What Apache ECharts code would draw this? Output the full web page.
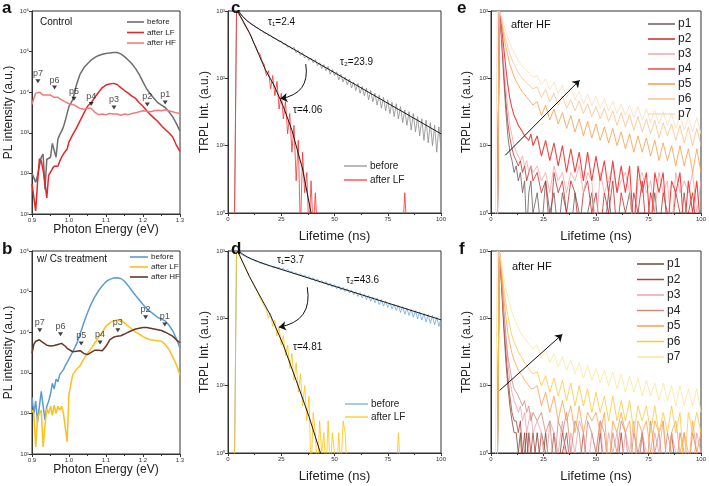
<!DOCTYPE html>
<html><head><meta charset="utf-8">
<script src="https://cdn.jsdelivr.net/npm/echarts@6/dist/echarts.min.js"></script>
<style>html,body{margin:0;padding:0;background:#fff}#c{width:709px;height:486px}</style>
</head><body><div id="c"></div>
<script>
// ---------- DATA ----------
const energy = [0.9,0.905,0.91,0.915,0.92,0.925,0.93,0.935,0.94,0.945,0.95,0.955,0.96,0.965,0.97,0.975,0.98,0.985,0.99,0.995,1.0,
  1.01,1.02,1.03,1.04,1.05,1.06,1.07,1.08,1.09,1.1,1.11,1.12,1.13,1.14,1.15,1.16,1.17,1.18,1.19,1.2,1.21,1.22,1.23,1.24,1.25,1.26,1.27,1.28,1.29,1.3];
const aBefore = [100,110,60,90,150,250,300,40,220,220,250,550,600,250,700,900,1100,1400,2000,3000,4500,
  6500,15000,28000,40000,50000,62000,72000,80000,86000,90000,93000,95000,95000,88000,75000,62000,50000,38000,27000,18000,12000,9000,7000,5500,4800,4200,3300,2500,1700,1100];
const aLF = [55,60,12,60,230,200,120,60,25,90,100,130,150,160,150,200,250,300,350,400,600,
  900,1300,2000,3000,4500,5500,7500,10000,13000,15000,16000,16500,15500,13000,11000,9500,8000,7000,5500,4500,3500,2800,2300,1900,1500,1200,1000,800,500,350];
const aHF = [5000,7000,9500,10500,10000,9000,8500,8000,8500,8000,8500,8000,7500,8000,7500,7000,6500,6000,5800,5500,5200,
  5000,4500,4000,3800,4000,4000,3200,2800,2900,2800,3000,2900,2900,2700,2900,2800,3000,3100,3300,3500,3400,3300,3500,3600,3500,3700,3500,3300,3100,3000];
const bBefore = [250,100,200,60,150,350,330,70,150,200,300,550,400,700,600,900,1000,1200,1500,1800,2200,
  3300,5000,9000,17000,30000,50000,75000,105000,140000,175000,200000,215000,220000,210000,180000,140000,105000,80000,62000,48000,38000,32000,27000,23000,21000,19000,15000,11000,7000,4000];
const bLF = [120,100,15,80,100,120,15,50,130,100,150,90,160,100,150,120,150,100,100,20,300,
  900,1200,1500,2200,3000,4000,5500,7500,10000,14000,17000,19000,20000,20000,17000,14000,12000,10000,9000,7800,7000,6500,6300,6200,6000,5000,3800,2500,1600,900];
const bHF = [3000,5000,6000,6500,6500,6000,5500,5000,4800,4500,4600,5000,4700,4500,5000,5500,5300,5000,4500,4000,3600,
  3300,3400,3500,3000,2800,3200,3600,3600,3500,4500,6500,7500,8000,8200,9000,10000,11000,12000,12500,13000,13000,12500,12000,11500,11000,10000,9000,8000,6500,5500];
const peakNames = ['p1','p2','p3','p4','p5','p6','p7'];
const aPeakE = [1.26,1.2117,1.1216,1.06,1.0135,0.961,0.916];
const aPeakI = [5600,5000,4200,5100,6900,13000,18600];
const bPeakE = [1.259,1.207,1.132,1.084,1.033,0.977,0.921];
const bPeakI = [15500,23500,11200,5600,5300,8900,11200];

// TRPL c/d: time 3..100 ns, 1 ns step
const tCD = [3,4,5,6,7,8,9,10,11,12,13,14,15,16,17,18,19,20,21,22,23,24,25,26,27,28,29,30,31,32,33,34,35,36,37,38,39,40,41,42,43,44,45,46,47,48,49,50,
  51,52,53,54,55,56,57,58,59,60,61,62,63,64,65,66,67,68,69,70,71,72,73,74,75,76,77,78,79,80,81,82,83,84,85,86,87,88,89,90,91,92,93,94,95,96,97,98,99,100];
const cBefore = [0.5,1000,950,880,830,760,700,690,630,620,570,560,520,510,470,470,430,440,400,390,380,350,360,320,330,290,300,270,290,240,260,220,240,200,215,185,200,170,190,155,170,140,160,130,150,115,135,110,125,95,115,88,105,80,98,72,88,66,84,60,76,55,72,48,66,45,60,40,56,36,52,33,48,30,44,27,42,25,38,22,34,20,32,17,30,16,27,14,25,12,24,11,22,10,20,8,19,9];
const cLF = [0.5,1000,900,800,700,600,540,470,420,340,300,250,230,180,160,110,130,70,110,55,90,35,60,25,45,15,30,8,20,3,12,0.5,8,2,4,0.5,3,0.5,2,
  0.5,0.5,0.5,0.5,0.5,0.5,0.5,0.5,0.5,0.5,0.5,0.5,0.5,0.5,0.5,0.5,0.5,0.5,0.5,0.5,0.5,0.5,0.5,0.5,0.5,0.5,0.5,0.5,0.5,0.5,0.5,0.5,0.5,0.5,0.5,0.5,0.5,0.5,0.5,0.5,0.5,
  2,0.5,0.5,0.5,0.5,0.5,0.5,0.5,0.5,0.5,0.5,0.5,0.5,0.5,0.5,0.5,0.5,0.5];
const dBefore = [0.5,1000,960,900,870,830,800,780,750,740,700,700,660,670,630,640,600,610,
  570,590,555,575,530,555,505,530,485,500,455,480,440,460,420,440,400,420,380,400,355,385,340,365,325,350,305,335,290,320,275,305,262,290,250,275,238,262,225,250,212,240,200,228,190,218,180,208,170,200,160,190,152,180,145,170,138,162,130,156,122,150,115,142,110,135,104,130,98,125,94,118,88,114,84,110,80,104,76,100];
const dLF = [0.5,1000,920,780,680,580,500,430,370,320,270,240,200,180,150,135,100,120,75,95,55,75,40,55,28,40,18,30,12,22,8,15,5,10,3,7,0.5,4,2,0.5,3,1,2,0.5,3,0.5,2,1,0.5,2,0.5,3,2,0.5,
  0.5,0.5,0.5,0.5,0.5,0.5,0.5,0.5,0.5,0.5,0.5,0.5,0.5,0.5,0.5,0.5,0.5,0.5,0.5,0.5,0.5,0.5,0.5,2,
  0.5,0.5,0.5,0.5,0.5,0.5,0.5,0.5,0.5,0.5,0.5,0.5,0.5,0.5,0.5,0.5,0.5,0.5,0.5,0.5];
const fitCBeforeT = [5,6,7,8,10,12,15,20,100];
const fitCBeforeI = [1000,899,823,763,674,609,529,426,15];
const fitCLFT = [4.5,10,17.6,21.5,26,30,35,39];
const fitCLFI = [1000,480,133,80,38,17,4.5,1];
const fitDBeforeT = [5,7,9,11,15,20,100];
const fitDBeforeI = [1000,895,819,763,678,598,95];
const fitDLFT = [4.5,10,20,26,32,38,43.4];
const fitDLFI = [1000,420,110,40,12,3.5,1];

// TRPL e/f: time grid
const tEF = [2,3,4,5,6,7,8,9,10,11,12,13,14,15,16,17,18,19,20,
  22,24,26,28,30,32,34,36,38,40,42,44,46,48,50,52,54,56,58,60,62,64,66,68,70,72,74,76,78,80,82,84,86,88,90,92,94,96,98,100];
const eP1 = [0.5,0.5,1000,380,110,35,14,8,6,4,5,3,4,2,3,0.5,2,3,1, 2,0.5,3,1,2,0.5,2,1,0.5,2, 1,0.5,1,2,0.5,1,0.5,2,0.5,1, 0.5,1,2,0.5,1,0.5,1,0.5,2,0.5, 1,0.5,0.5,1,0.5,2,0.5,1,0.5,1];
const eP2 = [0.5,0.5,1000,420,140,50,22,13,9,7,6,5,6,4,5,3,4,5,3, 4,2,3,0.5,4,2,3,1,3,2, 0.5,2,3,1,2,0.5,2,1,3,0.5, 2,1,0.5,2,1,3,0.5,2,1,0.5, 2,1,0.5,2,1,0.5,1,2,0.5,1];
const eP3 = [0.5,0.5,1000,480,180,75,35,20,14,10,8,7,6,7,5,6,4,5,4, 5,3,4,2,5,3,4,2,4,3, 5,2,4,3,0.5,4,2,3,5,2, 3,4,2,0.5,3,4,2,3,1,4, 2,3,0.5,4,2,3,2,4,1,3];
const eP4 = [0.5,0.5,1000,600,300,150,80,50,36,28,24,20,18,16,14,13,12,15,10, 14,7,12,6,11,5,10,4,9,4, 8,3,8,3,7,3,6,2,6,2, 5,2,5,0.5,5,2,4,0.5,4,2, 4,0.5,3,2,4,0.5,3,1,3,0.5];
const eP5 = [0.5,0.5,1000,700,430,300,220,160,130,105,90,80,70,62,58,52,48,44,40, 45,28,40,24,35,21,31,18,28,16, 25,14,23,13,21,12,19,11,18,10, 16,9,15,8,14,8,13,7,12,6, 11,6,10,5,10,5,9,4,9,4];
const eP6 = [0.5,0.5,1000,780,520,380,290,230,190,160,140,120,110,100,92,85,80,75,70, 75,52,68,45,60,40,55,36,48,33, 46,30,42,27,38,25,36,23,33,20, 31,19,29,17,27,16,25,15,24,13, 22,14,21,12,20,11,19,10,18,10];
const eP7 = [0.5,1000,950,820,640,500,400,330,280,240,210,185,165,150,140,130,120,112,105, 110,80,98,68,88,60,80,52,72,48, 64,42,58,39,54,36,50,33,46,30, 42,28,40,26,38,24,36,22,34,21, 32,20,30,18,29,17,27,16,26,15];
const fP1 = [0.5,0.5,1000,300,80,25,10,5,3,2,2,1,2,0.5,1,2,0.5,1,0.5, 2,0.5,2,0.5,1,0.5,2,1,0.5,0.5, 1,0.5,0.5,1,0.5,0.5,0.5,1,0.5,0.5, 1,0.5,0.5,0.5,1,0.5,0.5,1,0.5,0.5, 0.5,1,0.5,0.5,1,0.5,0.5,0.5,1,0.5];
const fP2 = [0.5,0.5,1000,350,100,35,14,7,4,3,3,2,3,1,2,0.5,2,1,2, 0.5,2,1,0.5,2,0.5,1,2,0.5,1, 0.5,2,0.5,1,0.5,2,0.5,1,0.5,0.5, 2,0.5,1,0.5,0.5,2,0.5,1,0.5,1, 0.5,0.5,2,0.5,1,0.5,0.5,1,0.5,0.5];
const fP3 = [0.5,0.5,1000,400,130,50,22,12,8,6,5,4,5,3,4,2,3,4,2, 3,2,0.5,3,2,1,3,0.5,2,1, 3,2,0.5,2,1,3,0.5,2,1,2, 0.5,2,1,3,0.5,2,1,0.5,2,1, 3,0.5,2,1,0.5,2,1,0.5,2,1];
const fP4 = [0.5,0.5,1000,420,150,60,28,18,12,9,8,7,6,5,6,4,5,3,4, 3,4,2,3,0.5,3,2,4,1,3, 2,0.5,3,2,1,3,2,0.5,2,1, 3,2,0.5,2,1,2,0.5,3,1,2, 0.5,2,1,0.5,2,1,0.5,2,1,0.5];
const fP5 = [0.5,0.5,1000,500,220,110,60,42,30,24,20,17,15,14,12,11,10,9,9, 10,5,8,4,7,3,6,3,5,2, 5,2,4,3,4,2,4,0.5,3,2, 4,2,3,0.5,3,2,3,1,3,2, 3,0.5,2,3,1,2,0.5,3,1,2];
const fP6 = [0.5,0.5,1000,560,290,170,110,75,55,45,38,32,28,25,22,20,18,16,15, 16,10,14,8,13,7,12,6,11,5, 10,5,9,4,8,4,7,3,7,3, 6,3,6,2,5,3,5,2,5,2, 4,2,5,2,4,0.5,4,2,4,2];
const fP7 = [0.5,1000,900,680,420,290,210,160,125,100,85,72,62,55,50,45,42,38,35, 40,26,34,22,30,19,27,17,24,15, 22,13,20,12,18,11,17,10,16,9, 15,8,14,8,13,7,12,7,11,6, 11,6,10,5,10,5,9,5,9,4];

// ---------- CHART ----------
const FONT = 'Liberation Sans, Arial, Helvetica, sans-serif';
const SUP = {'0':'\u2070','1':'\u00b9','2':'\u00b2','3':'\u00b3','4':'\u2074','5':'\u2075','6':'\u2076'};
const logFmt = v => '10' + SUP[String(Math.round(Math.log10(v)))];
const pairs = (xs, ys) => xs.map((x, i) => [x, ys[i]]);

const grids = [
  {left:32, top:11, width:148, height:203},
  {left:32, top:251, width:148, height:203},
  {left:228, top:11, width:213, height:202},
  {left:228, top:251, width:213, height:202},
  {left:491, top:11, width:211, height:202},
  {left:491, top:251, width:211, height:202}
].map(g => Object.assign(g, {show:true, borderColor:'#333', borderWidth:1, backgroundColor:'transparent', containLabel:false}));

function xAx(gi, min, max, interval, name, gap, size, fmt) {
  return {type:'value', gridIndex:gi, min, max, interval, name, nameLocation:'middle', nameGap:gap,
    nameTextStyle:{fontSize:size, color:'#222', fontFamily:FONT},
    axisLine:{show:true, onZero:false, lineStyle:{color:'#333', width:1}},
    axisTick:{show:true, length:3, lineStyle:{color:'#333'}},
    minorTick:{show:true, splitNumber:2, length:2, lineStyle:{color:'#333'}},
    axisLabel:{fontSize:6, color:'#333', margin:3, fontFamily:FONT, formatter:fmt},
    splitLine:{show:false}};
}
function yAx(gi, min, max, name, gap) {
  return {type:'log', logBase:10, gridIndex:gi, min, max, name, nameLocation:'middle', nameGap:gap,
    nameTextStyle:{fontSize:12, color:'#222', fontFamily:FONT},
    axisLine:{show:true, onZero:false, lineStyle:{color:'#333', width:1}},
    axisTick:{show:true, length:3, lineStyle:{color:'#333'}},
    axisLabel:{fontSize:6, color:'#333', margin:3, fontFamily:FONT, formatter:logFmt},
    splitLine:{show:false}};
}
const e1 = v => v.toFixed(1);
const xAxes = [
  xAx(0, 0.9, 1.3, 0.1, 'Photon Energy (eV)', 7, 12, e1),
  xAx(1, 0.9, 1.3, 0.1, 'Photon Energy (eV)', 7, 12, e1),
  xAx(2, 0, 100, 25, 'Lifetime (ns)', 17, 13),
  xAx(3, 0, 100, 25, 'Lifetime (ns)', 17, 13),
  xAx(4, 0, 100, 25, 'Lifetime (ns)', 17, 13),
  xAx(5, 0, 100, 25, 'Lifetime (ns)', 17, 13)
];
const yAxes = [
  yAx(0, 10, 1e6, 'PL intensity (a.u.)', 17),
  yAx(1, 10, 1e6, 'PL intensity (a.u.)', 17),
  yAx(2, 1, 1000, 'TRPL Int. (a.u.)', 17),
  yAx(3, 1, 1000, 'TRPL Int. (a.u.)', 17),
  yAx(4, 1, 1000, 'TRPL Int. (a.u.)', 18),
  yAx(5, 1, 1000, 'TRPL Int. (a.u.)', 18)
];

function line(name, gi, xs, ys, color, width) {
  return {type:'line', name, xAxisIndex:gi, yAxisIndex:gi, data:pairs(xs, ys),
    symbol:'none', showSymbol:false, clip:true, lineStyle:{color, width}, itemStyle:{color},
    emphasis:{disabled:true}, animation:false};
}
function peaks(name, gi, xs, ys) {
  return {type:'scatter', name, xAxisIndex:gi, yAxisIndex:gi,
    data: xs.map((x, i) => ({name:peakNames[i], value:[x, ys[i]]})),
    symbol:'triangle', symbolRotate:180, symbolSize:[5,4], itemStyle:{color:'#111'},
    label:{show:true, position:'top', distance:1, formatter:'{b}', fontSize:9, color:'#222', fontFamily:FONT},
    emphasis:{disabled:true}, animation:false, z:5};
}
function arrow(gi, from, to, curv) {
  return {type:'lines', coordinateSystem:'cartesian2d', xAxisIndex:gi, yAxisIndex:gi, silent:true,
    symbol:['none','arrow'], symbolSize:7, animation:false, z:6,
    lineStyle:{color:'#111', width:1, curveness:curv, opacity:1},
    data:[{coords:[from, to]}]};
}

const eCols = ['#6a5a5a','#c42a2a','#f6a3a3','#f04444','#fb9a45','#fcc088','#fddcbc'];
const fCols = ['#7a4632','#b04038','#f0a0aa','#cf8a78','#fca04c','#fcc83c','#fde49a'];
const eData = [eP1,eP2,eP3,eP4,eP5,eP6,eP7];
const fData = [fP1,fP2,fP3,fP4,fP5,fP6,fP7];

const series = [
  line('a#before', 0, energy, aBefore, '#6e6e6e', 1.5),
  line('a#after LF', 0, energy, aLF, '#e8262a', 1.5),
  line('a#after HF', 0, energy, aHF, '#f47a7a', 1.5),
  peaks('aPk', 0, aPeakE, aPeakI),
  line('b#before', 1, energy, bBefore, '#5b9bd5', 1.5),
  line('b#after LF', 1, energy, bLF, '#ffbf1a', 1.5),
  line('b#after HF', 1, energy, bHF, '#6b3526', 1.5),
  peaks('bPk', 1, bPeakE, bPeakI),
  line('c#before', 2, tCD, cBefore, '#8c8c8c', 0.8),
  line('c#after LF', 2, tCD, cLF, '#ff2d2d', 0.8),
  line('cfit1', 2, fitCBeforeT, fitCBeforeI, '#1a1a1a', 1),
  line('cfit2', 2, fitCLFT, fitCLFI, '#1a1a1a', 1),
  arrow(2, [36.5,163], [24.6,50], 0.5),
  line('d#before', 3, tCD, dBefore, '#6fa8dc', 0.8),
  line('d#after LF', 3, tCD, dLF, '#ffc20e', 0.8),
  line('dfit1', 3, fitDBeforeT, fitDBeforeI, '#1a1a1a', 1),
  line('dfit2', 3, fitDLFT, fitDLFI, '#1a1a1a', 1),
  arrow(3, [37.2,290], [23.9,74], 0.5)
];
peakNames.forEach((p, i) => series.push(line('e#' + p, 4, tEF, eData[i], eCols[i], i === 3 ? 1.1 : 0.8)));
peakNames.forEach((p, i) => series.push(line('f#' + p, 5, tEF, fData[i], fCols[i], 0.8)));
series.push(arrow(4, [6.8,7.2], [42.2,94], 0));
series.push(arrow(5, [4.1,8.5], [34,58], 0));

function leg(names, left, top, iw, ih, fs, gap) {
  return {data:names.map(n => ({name:n, icon:'rect'})), left, top, orient:'vertical', itemWidth:iw, itemHeight:ih, itemGap:gap, padding:0,
    selectedMode:false, formatter: n => n.split('#')[1],
    textStyle:{fontSize:fs, lineHeight:fs, color:'#222', fontFamily:FONT, padding:[0,0,0,-2]}};
}
const legends = [
  leg(['a#before','a#after LF','a#after HF'], 127, 18, 17, 1.6, 8, 2.5),
  leg(['b#before','b#after LF','b#after HF'], 130, 253, 18, 1.6, 8, 2),
  leg(['c#before','c#after LF'], 344, 161, 23, 1.2, 10, 4),
  leg(['d#before','d#after LF'], 345, 399, 23, 1.2, 10, 3),
  leg(peakNames.map(p => 'e#' + p), 648, 18, 27, 1.5, 12, 3),
  leg(peakNames.map(p => 'f#' + p), 637, 258, 27, 1.5, 12, 3.5)
];

function txt(text, left, top, size, weight) {
  return {type:'text', left, top, z:100, silent:true,
    style:{text, fontSize:size, fontWeight:weight || 'normal', fill:'#111', fontFamily:FONT}};
}
const graphic = [
  txt('a', 2, 0, 17, 'bold'), txt('b', 2, 241, 17, 'bold'),
  txt('c', 231, 0, 17, 'bold'), txt('d', 231, 241, 17, 'bold'),
  txt('e', 457, 0, 17, 'bold'), txt('f', 459, 241, 17, 'bold'),
  txt('Control', 40, 17, 10), txt('w/ Cs treatment', 37, 254, 10),
  txt('\u03c4\u2081=2.4', 268, 17, 10), txt('\u03c4\u2082=23.9', 340, 57, 10), txt('\u03c4=4.06', 293, 105, 10),
  txt('\u03c4\u2081=3.7', 277, 255, 10), txt('\u03c4\u2082=43.6', 346, 275, 10), txt('\u03c4=4.81', 293, 342, 10),
  txt('after HF', 511, 19, 11), txt('after HF', 512, 261, 11)
];

const chart = echarts.init(document.getElementById('c'), null, {renderer:'canvas'});
chart.setOption({animation:false, textStyle:{fontFamily:FONT}, grid:grids, xAxis:xAxes, yAxis:yAxes,
  series, legend:legends, graphic});
</script></body></html>
